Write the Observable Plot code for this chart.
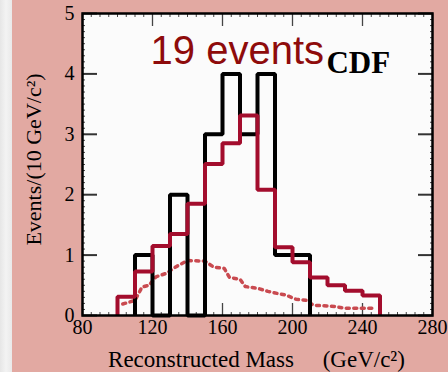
<!DOCTYPE html>
<html><head><meta charset="utf-8">
<script src="https://cdn.jsdelivr.net/npm/d3@7"></script>
<script src="https://cdn.jsdelivr.net/npm/@observablehq/plot@0.6"></script>
<style>
html,body{margin:0;padding:0;background:#e2a9a2;overflow:hidden}
#chart svg{display:block}
</style>
</head><body><div id="chart"></div>
<script>
// ---- data ----
const binStarts = [100,110,120,130,140,150,160,170,180,190,200,210,220,230,240];
const binWidth = 10;
const observedCounts = [0,1,0,2,0,3,4,3,4,1,1,0,0,0,0];
const expectedTotal = [0.31,0.73,1.15,1.35,1.85,2.51,2.85,3.31,2.08,1.13,0.88,0.63,0.50,0.41,0.33];
const bgMass  = [103,110,114,118,122,128,133,140,150,155,161,164,170,173,180,186,192,196,202,208,212,224,230,247];
const bgValue = [0.19,0.25,0.47,0.5,0.64,0.7,0.8,0.91,0.9,0.8,0.78,0.63,0.6,0.48,0.45,0.4,0.36,0.34,0.27,0.25,0.17,0.15,0.12,0.12];
const xTicks = [80,120,160,200,240,280];
const yTicks = [0,1,2,3,4,5];
const xMinor = d3.range(80, 281, 5);
const yMinor = d3.range(0, 5.001, 0.1);
const annotation = "19 events";
const experiment = "CDF";
const xLabel = "Reconstructed Mass\u2003 (GeV/c\u00B2)";
const yLabel = "Events/(10 GeV/c\u00B2)";

function stepPoints(values, trim) {
  let lo = 0, hi = values.length - 1;
  if (trim) {
    while (lo < hi && values[lo] === 0) lo++;
    while (hi > lo && values[hi] === 0) hi--;
  }
  const pts = [{x: binStarts[lo], y: 0}];
  for (let i = lo; i <= hi; i++) pts.push({x: binStarts[i], y: values[i]});
  pts.push({x: binStarts[hi] + binWidth, y: 0});
  return pts;
}
const bgPoints = bgMass.map((m, i) => ({x: m, y: bgValue[i]}));

const serif = "'Liberation Serif', 'Times New Roman', serif";
const fmt = d3.format("d");

const chart = Plot.plot({
  width: 448, height: 372,
  marginLeft: 82, marginRight: 16, marginTop: 13, marginBottom: 57,
  x: {domain: [80, 280]},
  y: {domain: [0, 5]},
  style: {
    background: "linear-gradient(to right, #e6e6e6 0px, #f3f3f3 6px, #e9e9e9 12px, #e2a9a2 12px)",
    fontFamily: serif, fontSize: "20px", color: "black"
  },
  marks: [
    Plot.frame({fill: "#fbfbfb", stroke: null}),
    // minor ticks
    Plot.axisX(xMinor, {anchor: "bottom", tickSize: -3, fill: "none", label: null, stroke: "#444"}),
    Plot.axisX(xMinor, {anchor: "top", tickSize: -3, fill: "none", label: null, stroke: "#444"}),
    Plot.axisY(yMinor, {anchor: "left", tickSize: -3, fill: "none", label: null, stroke: "#444"}),
    Plot.axisY(yMinor, {anchor: "right", tickSize: -3, fill: "none", label: null, stroke: "#444"}),
    // major ticks
    Plot.axisX(xTicks, {anchor: "bottom", tickSize: -12, tickPadding: 16, tickFormat: fmt, label: null, stroke: "#444", strokeWidth: 1.3, fill: "black"}),
    Plot.axisX(xTicks, {anchor: "top", tickSize: -12, fill: "none", label: null, stroke: "#444", strokeWidth: 1.3}),
    Plot.axisY(yTicks, {anchor: "left", tickSize: -15, tickPadding: 23, tickFormat: fmt, label: null, stroke: "#333", strokeWidth: 2, fill: "black"}),
    Plot.axisY(yTicks, {anchor: "right", tickSize: -15, fill: "none", label: null, stroke: "#333", strokeWidth: 2}),
    // background estimate (dotted)
    Plot.line(bgPoints, {x: "x", y: "y", stroke: "#c94a50", strokeWidth: 3.5, strokeDasharray: "3,4.5"}),
    // observed data
    Plot.line(stepPoints(observedCounts, true), {x: "x", y: "y", curve: "step-after", stroke: "black", strokeWidth: 4, strokeLinejoin: "miter", strokeLinecap: "butt"}),
    // expectation
    Plot.line(stepPoints(expectedTotal, false), {x: "x", y: "y", curve: "step-after", stroke: "#a30d2d", strokeWidth: 4, strokeLinejoin: "miter", strokeLinecap: "butt"}),
    Plot.frame({stroke: "black", strokeWidth: 2.5}),
    // annotations
    Plot.text([annotation], {x: 118.9, y: 4.17, text: d => d, textAnchor: "start", lineAnchor: "bottom", fill: "#8e0b0b", fontFamily: "'Liberation Sans', Arial, sans-serif", fontSize: 40}),
    Plot.text([experiment], {x: 219.4, y: 4.02, text: d => d, textAnchor: "start", lineAnchor: "bottom", fill: "black", fontFamily: serif, fontSize: 31, fontWeight: "bold"}),
    // axis titles
    Plot.text([xLabel], {frameAnchor: "bottom", text: d => d, dy: 51, dx: -1, textAnchor: "middle", lineAnchor: "bottom", fontSize: 23, fill: "black"}),
    Plot.text([yLabel], {frameAnchor: "left", text: d => d, dx: -49, dy: -5, rotate: -90, textAnchor: "middle", lineAnchor: "middle", fontSize: 22, fill: "black"})
  ]
});
document.getElementById("chart").appendChild(chart);
</script>
</body></html>
